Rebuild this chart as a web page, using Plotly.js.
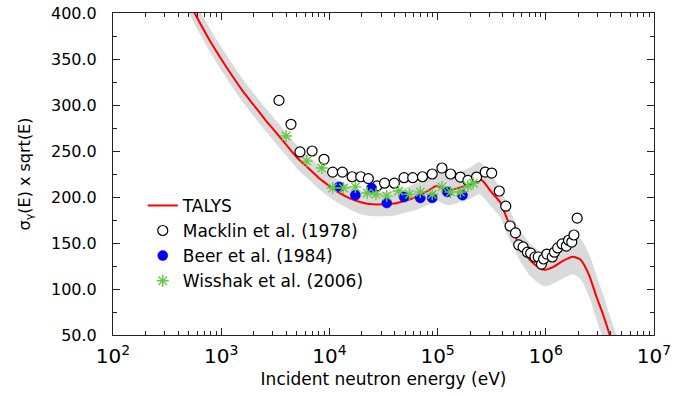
<!DOCTYPE html>
<html>
<head>
<meta charset="utf-8">
<script src="https://cdn.plot.ly/plotly-3.0.1.min.js"></script>
<style>html,body{margin:0;padding:0;background:#fff;}#chart{width:687px;height:396px;}</style>
</head>
<body>
<div id="chart"></div>
<script>
// TALYS calculation (energy in eV)
const talysE = [5.01e2, 6.31e2, 7.94e2, 1.0e3, 1.259e3, 1.585e3, 1.995e3, 2.512e3, 3.162e3, 3.981e3,
  5.012e3, 6.31e3, 7.943e3, 1.0e4, 1.2589e4, 1.5849e4, 1.9953e4, 2.5119e4, 3.1623e4, 3.9811e4,
  5.0119e4, 6.3096e4, 7.9433e4, 9.7724e4, 1.12202e5, 1.25893e5, 1.58489e5, 1.99526e5, 2.39883e5, 2.63027e5,
  3.16228e5, 3.80189e5, 4.46684e5, 5.01187e5, 5.7544e5, 7.07946e5, 8.91251e5, 1.0e6, 1.174898e6, 1.412538e6,
  1.778279e6, 2.089296e6, 2.511886e6, 2.951209e6, 3.388442e6, 3.981072e6, 4.677351e6];
const talysV = [412, 390, 369, 350, 332, 315, 300, 285, 271, 257,
  243, 232, 221, 212, 204, 198, 194, 192, 192, 193,
  196, 200, 206, 212, 209, 207, 210, 214, 220, 217,
  205, 194, 174, 162, 147, 132, 122, 121, 124, 130,
  135, 132, 115, 91, 72, 47, 25];
// TALYS uncertainty band
const bandHi = [425, 403, 382, 363, 345, 328, 313, 298, 284, 270,
  256, 245, 234, 225, 217, 211, 207, 205, 205, 207,
  210, 215, 221, 228, 226, 224, 227, 232, 238, 235,
  222, 210, 190, 178, 164, 150, 141, 140, 144, 151,
  157, 155, 138, 114, 94, 68, 45];
const bandLo = [400, 378, 357, 338, 320, 303, 288, 273, 259, 245,
  231, 220, 209, 200, 192, 186, 181, 179, 179, 180,
  183, 186, 191, 196, 193, 191, 194, 198, 203, 200,
  189, 178, 158, 146, 131, 115, 105, 103, 106, 111,
  116, 111, 92, 66, 46, 20, 0];

// Macklin et al. (1978)
const macklinE = [3420, 4416, 5346, 6918, 8913, 10715, 13183, 16218, 19498, 22909,
  27542, 32359, 39811, 48978, 58884, 72444, 89125, 109648, 131826, 162181,
  190546, 229087, 275423, 316228, 371535, 426580, 467735, 524807, 562341, 616595,
  676083, 724436, 794328, 851138, 912011, 954993, 1023293, 1148154, 1202264, 1288250,
  1412538, 1548817, 1621810, 1737801, 1819701, 1949845];
const macklinV = [305, 279, 249, 250, 241, 227, 227, 222, 222, 220,
  212, 215, 215, 221, 221, 222, 225, 231.5, 225, 221.7,
  218, 221.7, 227, 226, 206.5, 190, 168.5, 161, 148, 145.7,
  140, 139, 134.8, 134.8, 127, 132.6, 138, 134.8, 140, 144.6,
  149, 146.7, 153, 151, 158.7, 177];

// Beer et al. (1984)
const beerE = [12303, 17378, 24547, 33884, 48978, 69183, 89125, 123027, 169824];
const beerV = [211, 202, 209.8, 193.5, 200, 199, 199, 205.5, 202];

// Wisshak et al. (2006)
const wissE = [3981, 6166, 8511, 10715, 13490, 17378, 22387, 26915, 33884, 43652,
  54954, 69183, 89125, 109648, 131826, 162181, 190546, 213796];
const wissV = [266.3, 239, 231.5, 209.8, 209.8, 211, 204.4, 203, 201, 206.5,
  203, 205.5, 203, 211, 205.5, 205.5, 212, 215];

const FONT = 'DejaVu Sans, sans-serif';

const traces = [
  {x: talysE, y: bandLo, mode: 'lines', line: {width: 0, shape: 'spline', smoothing: 0.6}, showlegend: false, hoverinfo: 'skip'},
  {x: talysE, y: bandHi, mode: 'lines', line: {width: 0, shape: 'spline', smoothing: 0.6}, fill: 'tonexty', fillcolor: '#dadada', showlegend: false, hoverinfo: 'skip'},
  {x: talysE, y: talysV, mode: 'lines', name: 'TALYS', line: {color: '#ff0000', width: 2, shape: 'spline', smoothing: 0.6}},
  {x: macklinE, y: macklinV, mode: 'markers', name: 'Macklin et al. (1978)',
    marker: {symbol: 'circle', size: 10, color: '#ffffff', line: {color: '#000000', width: 1.2}}},
  {x: beerE, y: beerV, mode: 'markers', name: 'Beer et al. (1984)',
    marker: {symbol: 'circle', size: 10, color: '#0000ff', line: {color: '#0000cc', width: 0.5}}},
  {x: wissE, y: wissV, mode: 'markers', name: 'Wisshak et al. (2006)',
    marker: {symbol: 'asterisk-open', size: 10, color: '#66c844', line: {color: '#66c844', width: 1.4}}}
];

const layout = {
  width: 687, height: 396,
  margin: {l: 113, r: 33, t: 13, b: 61},
  paper_bgcolor: '#ffffff', plot_bgcolor: '#ffffff',
  font: {family: FONT, color: '#000000', size: 16},
  showlegend: true,
  legend: {x: 0.055, y: 0.457, xanchor: 'left', yanchor: 'top', bgcolor: 'rgba(0,0,0,0)', borderwidth: 0,
    traceorder: 'normal', font: {family: FONT, size: 17, color: '#000000'}, tracegroupgap: 0},
  xaxis: {
    type: 'log', range: [2, 7], dtick: 1, exponentformat: 'power',
    showgrid: false, zeroline: false, showline: true, linecolor: '#222', linewidth: 1,
    mirror: 'ticks', ticks: 'inside', ticklen: 7, tickwidth: 1, tickcolor: '#222',
    minor: {ticks: 'inside', ticklen: 4, tickwidth: 1, tickcolor: '#222', dtick: 'D1', showgrid: false},
    tickfont: {family: FONT, size: 16, color: '#000'}, ticklabelstandoff: 4,
    title: {text: 'Incident neutron energy (eV)', font: {family: FONT, size: 17, color: '#000'}, standoff: 5}
  },
  yaxis: {
    range: [50, 400], dtick: 50, tick0: 50, tickformat: '.1f',
    showgrid: false, zeroline: false, showline: true, linecolor: '#222', linewidth: 1,
    mirror: 'ticks', ticks: 'inside', ticklen: 7, tickwidth: 1, tickcolor: '#222',
    minor: {ticks: 'inside', ticklen: 4, tickwidth: 1, tickcolor: '#222', dtick: 25, showgrid: false},
    tickfont: {family: FONT, size: 16, color: '#000'}, ticklabelstandoff: 12,
    title: {text: 'σ<sub>γ</sub>(E) x sqrt(E)', font: {family: FONT, size: 16, color: '#000'}, standoff: 16}
  }
};

Plotly.newPlot('chart', traces, layout, {staticPlot: true, displayModeBar: false});
</script>
</body>
</html>
